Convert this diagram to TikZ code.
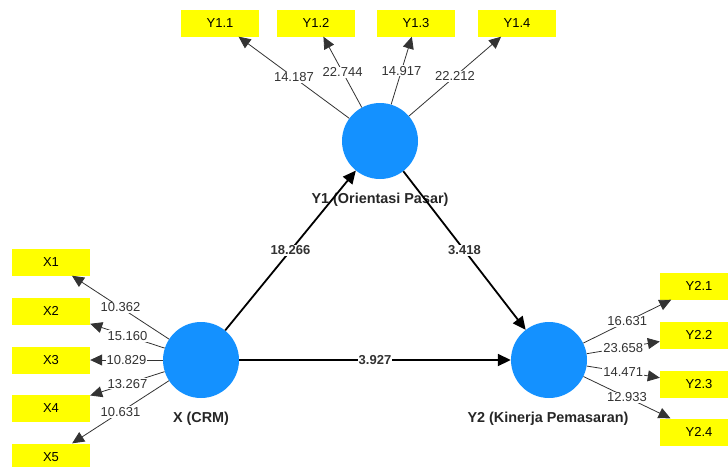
\documentclass[tikz,border=0pt]{standalone}
\usepackage{fontspec}
\setmainfont{Liberation Sans}
\usepackage{xcolor}
\usepackage{tikz}
\usetikzlibrary{arrows.meta,positioning}
\definecolor{lvblue}{RGB}{20,145,255}
\definecolor{indyellow}{RGB}{255,255,0}
\definecolor{numgray}{RGB}{51,51,51}

\begin{document}
\begin{tikzpicture}[x=1pt,y=-1pt,
  latent/.style={circle,fill=lvblue,minimum size=76pt,inner sep=0pt},
  indicator/.style={rectangle,fill=indyellow,minimum width=78pt,minimum height=27pt,inner sep=0pt,font=\fontsize{13}{15}\selectfont},
  lvlabel/.style={font=\fontsize{14.4}{16}\selectfont\bfseries,text=black!85},
  loading/.style={draw=numgray,line width=0.8pt,-{Triangle[length=12pt,width=11pt]}},
  path/.style={draw=black,line width=1.8pt,-{Triangle[length=13pt,width=12pt]}},
  loadnum/.style={fill=white,inner sep=1pt,text=numgray,font=\fontsize{13}{15}\selectfont},
  pathnum/.style={fill=white,inner sep=1pt,text=numgray,font=\fontsize{13}{15}\selectfont\bfseries}]
  \useasboundingbox (0,0) rectangle (728,466);
  \clip (0,0) rectangle (728,466);
  % latent variables
  \node[latent] (y1) at (380,141) {};
  \node[latent] (x) at (201,360) {};
  \node[latent] (y2) at (549,360) {};
  \node[lvlabel] at (380,200) {Y1 (Orientasi Pasar)};
  \node[lvlabel] at (201,419) {X (CRM)};
  \node[lvlabel] at (548,419) {Y2 (Kinerja Pemasaran)};
  % indicators
  \node[indicator] (y11) at (220,23) {Y1.1};
  \node[indicator] (y12) at (316,23) {Y1.2};
  \node[indicator] (y13) at (416,23) {Y1.3};
  \node[indicator] (y14) at (517,23) {Y1.4};
  \node[indicator] (x1) at (51,262) {X1};
  \node[indicator] (x2) at (51,311) {X2};
  \node[indicator] (x3) at (51,360) {X3};
  \node[indicator] (x4) at (51,408) {X4};
  \node[indicator] (x5) at (51,457) {X5};
  \node[indicator] (y21) at (699,286) {Y2.1};
  \node[indicator] (y22) at (699,335) {Y2.2};
  \node[indicator] (y23) at (699,384) {Y2.3};
  \node[indicator] (y24) at (699,432) {Y2.4};
  % outer loadings
  \draw[loading] (y1) -- node[loadnum] {14.187} (y11);
  \draw[loading] (y1) -- node[loadnum] {22.744} (y12);
  \draw[loading] (y1) -- node[loadnum] {14.917} (y13);
  \draw[loading] (y1) -- node[loadnum] {22.212} (y14);
  \draw[loading] (x) -- node[loadnum] {10.362} (x1);
  \draw[loading] (x) -- node[loadnum] {15.160} (x2);
  \draw[loading] (x) -- node[loadnum] {10.829} (x3);
  \draw[loading] (x) -- node[loadnum] {13.267} (x4);
  \draw[loading] (x) -- node[loadnum] {10.631} (x5);
  \draw[loading] (y2) -- node[loadnum] {16.631} (y21);
  \draw[loading] (y2) -- node[loadnum] {23.658} (y22);
  \draw[loading] (y2) -- node[loadnum] {14.471} (y23);
  \draw[loading] (y2) -- node[loadnum] {12.933} (y24);
  % inner model
  \draw[path] (x) -- node[pathnum] {18.266} (y1);
  \draw[path] (y1) -- node[pathnum] {3.418} (y2);
  \draw[path] (x) -- node[pathnum] {3.927} (y2);
\end{tikzpicture}
\end{document}
